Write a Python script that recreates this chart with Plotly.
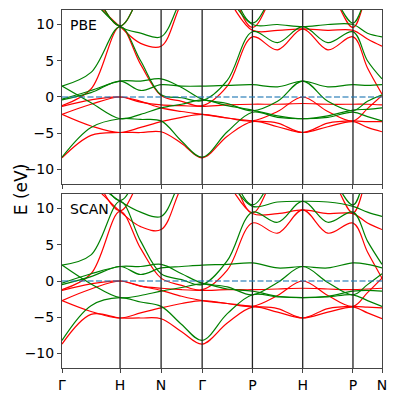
import plotly.graph_objects as go
from plotly.subplots import make_subplots

# k-path: high-symmetry points and the midpoints of each segment
kpath_pos = [0.0, 1.0, 1.707, 2.414, 3.280, 4.146, 5.012, 5.512]
kpath_labels = ['Γ', 'H', 'N', 'Γ', 'P', 'H', 'P', 'N']
k = [0.0, 0.5, 1.0, 1.354, 1.707, 2.061, 2.414, 2.847, 3.280, 3.713, 4.146, 4.579, 5.012, 5.262, 5.512]

# PBE, spin up (red)
pbe_up = [
    [-8.4, -5.3, -4.9, -4.9, -4.8, -6.4, -8.4, -5.4, -3.4, -4.1, -4.9, -4.1, -3.4, -4.2, -4.8],
    [-2.4, -4.0, -4.9, -4.2, -3.4, -2.8, -2.4, -2.9, -3.3, -3.6, -4.9, -3.6, -3.3, -3.4, -3.4],
    [-2.4, -1.0, 0.0, -0.6, -1.5, -2.0, -2.4, -2.9, -3.3, -2.0, 0.0, -2.0, -3.3, -1.6, 0.2],
    [-1.3, -0.4, 0.0, -0.7, -1.1, -1.2, -1.3, -1.1, -1.0, -1.0, -0.9, -1.0, -1.0, -1.0, -1.1],
    [-1.2, 1.1, 9.7, 4.5, 0.2, -0.6, -1.2, 1.5, 8.3, 6.5, 9.4, 6.5, 8.3, 4.0, 0.4],
    [17.0, 13.5, 9.7, 7.4, 7.0, 13.0, 17.0, 13.5, 9.2, 9.2, 9.4, 9.2, 9.2, 8.0, 7.0],
    [20.0, 15.0, 9.8, 14.0, 17.0, 20.0, 22.0, 16.0, 9.6, 15.0, 17.0, 15.0, 9.6, 14.0, 16.0],
]
# PBE, spin down (green)
pbe_dn = [
    [-8.3, -4.2, -3.0, -3.1, -3.3, -6.1, -8.3, -4.8, -2.1, -2.8, -3.0, -2.8, -2.1, -2.7, -3.3],
    [1.5, -0.8, -3.0, -2.4, -1.5, -1.0, -0.4, -1.2, -1.8, -2.6, -3.0, -2.6, -1.8, -1.7, -1.5],
    [-0.4, 0.6, 2.2, 0.9, 1.7, 1.5, 1.5, 1.6, 1.7, 1.4, 2.2, 1.4, 1.7, 1.6, 1.7],
    [-0.3, 0.9, 2.2, 2.2, 2.5, 1.3, -0.3, -0.9, -1.9, -0.6, 2.2, -0.6, -1.9, -0.6, 0.3],
    [1.5, 3.4, 9.7, 5.0, 0.3, -0.1, -0.5, 2.3, 9.0, 7.5, 9.7, 7.5, 9.0, 5.0, 2.5],
    [17.0, 13.5, 9.7, 8.8, 8.3, 13.5, 17.0, 14.0, 10.0, 10.0, 9.7, 10.0, 10.0, 8.8, 8.3],
    [20.0, 15.0, 9.8, 14.0, 17.0, 20.0, 22.0, 16.0, 10.2, 15.0, 17.0, 15.0, 10.2, 14.0, 16.0],
]
# SCAN, spin up (red)
scan_up = [
    [-8.7, -4.6, -5.1, -5.1, -5.2, -7.0, -8.7, -5.8, -3.6, -4.3, -5.1, -4.3, -3.6, -4.4, -5.2],
    [-2.7, -4.2, -5.1, -4.4, -3.7, -3.1, -2.7, -3.1, -3.5, -3.8, -5.1, -3.8, -3.5, -3.6, -3.7],
    [-2.7, -1.1, 0.0, -0.7, -1.3, -2.1, -2.7, -3.1, -3.5, -2.0, 0.0, -2.0, -3.5, -1.6, 0.4],
    [-1.3, -0.4, 0.0, -0.7, -1.0, -1.2, -1.3, -1.2, -1.2, -1.1, -1.0, -1.1, -1.2, -1.1, -1.0],
    [-1.2, 1.0, 9.6, 4.5, 0.4, -0.6, -1.2, 1.5, 8.0, 6.6, 9.8, 6.6, 8.0, 4.0, 0.4],
    [17.0, 13.5, 9.6, 7.5, 7.1, 13.0, 17.0, 13.5, 9.3, 9.3, 9.8, 9.3, 9.3, 8.0, 7.1],
    [20.0, 15.0, 9.7, 14.0, 17.0, 20.0, 22.0, 16.0, 9.4, 15.0, 17.0, 15.0, 9.4, 14.0, 16.0],
]
# SCAN, spin down (green)
scan_dn = [
    [-8.2, -3.4, -2.3, -2.9, -3.5, -6.0, -8.2, -4.5, -1.9, -2.2, -2.3, -2.2, -1.9, -2.7, -3.5],
    [2.2, -0.4, -2.3, -2.0, -1.4, -0.9, -0.4, -1.1, -1.4, -2.1, -2.3, -2.1, -1.4, -1.3, -1.4],
    [-0.5, 0.6, 2.0, 0.9, 1.8, 2.0, 2.2, 2.3, 2.5, 1.8, 2.0, 1.8, 2.5, 2.3, 1.8],
    [-0.3, 1.0, 2.0, 2.0, 2.3, 1.0, -0.3, -0.8, -1.9, -0.2, 2.0, -0.2, -1.9, -0.5, 1.0],
    [2.2, 3.6, 11.0, 5.5, 1.0, 0.2, -0.5, 2.8, 9.5, 8.1, 11.0, 8.1, 9.5, 5.5, 2.3],
    [17.0, 14.0, 11.0, 9.5, 8.9, 14.0, 17.0, 14.0, 10.3, 10.9, 11.0, 10.9, 10.3, 9.5, 8.9],
    [20.0, 16.0, 11.1, 15.0, 17.0, 20.0, 22.0, 16.0, 10.5, 15.0, 17.0, 15.0, 10.5, 15.0, 17.0],
]

fig = make_subplots(rows=2, cols=1, shared_xaxes=True, vertical_spacing=0.028)

panels = [(1, pbe_up, pbe_dn), (2, scan_up, scan_dn)]
for row, up, dn in panels:
    for band in up:
        fig.add_trace(go.Scatter(x=k, y=band, mode='lines', line=dict(color='red', width=1.2, shape='spline', smoothing=1.0),
                                 showlegend=False, hoverinfo='skip'), row=row, col=1)
    for band in dn:
        fig.add_trace(go.Scatter(x=k, y=band, mode='lines', line=dict(color='green', width=1.2, shape='spline', smoothing=1.0),
                                 showlegend=False, hoverinfo='skip'), row=row, col=1)

# vertical lines at high-symmetry points and Fermi level
for yref in ['y domain', 'y2 domain']:
    for xp in kpath_pos[1:-1]:
        fig.add_shape(type='line', xref='x', yref=yref, x0=xp, x1=xp, y0=0, y1=1,
                      line=dict(color='#222', width=1.3), layer='above')
for xr, yr in [('x domain', 'y'), ('x domain', 'y2')]:
    fig.add_shape(type='line', xref=xr, yref=yr, x0=0, x1=1, y0=0, y1=0,
                  line=dict(color='rgba(31,119,180,0.75)', width=1.5, dash='6px,2.5px'), layer='above')

fig.add_annotation(text='PBE', xref='x domain', yref='y domain', x=0.02, y=0.97, xanchor='left', yanchor='top',
                   showarrow=False, font=dict(size=14, color='black'))
fig.add_annotation(text='SCAN', xref='x2 domain', yref='y2 domain', x=0.02, y=0.97, xanchor='left', yanchor='top',
                   showarrow=False, font=dict(size=14, color='black'))
fig.add_annotation(text='E (eV)', xref='paper', yref='paper', x=-0.165, y=0.5, textangle=-90,
                   showarrow=False, font=dict(size=17, color='black'))

axis_style = dict(showline=True, mirror=True, linecolor='#444', linewidth=1, showgrid=False, zeroline=False,
                  ticks='outside', ticklen=4, tickcolor='#444', tickfont=dict(size=14, color='black'),
                  automargin=False)
fig.update_xaxes(range=[0, kpath_pos[-1]], tickvals=kpath_pos, ticktext=kpath_labels, **axis_style)
fig.update_xaxes(showticklabels=False, row=1, col=1)
fig.update_yaxes(range=[-12, 12], tickvals=[-10, -5, 0, 5, 10], **axis_style)

# the page body adds an 8px offset, so margins are shifted to compensate
fig.update_layout(width=395, height=395, margin=dict(l=54, r=21, t=2, b=35),
                  plot_bgcolor='white', paper_bgcolor='white',
                  font=dict(family='DejaVu Sans', color='black'))

fig.write_html('out.html')
